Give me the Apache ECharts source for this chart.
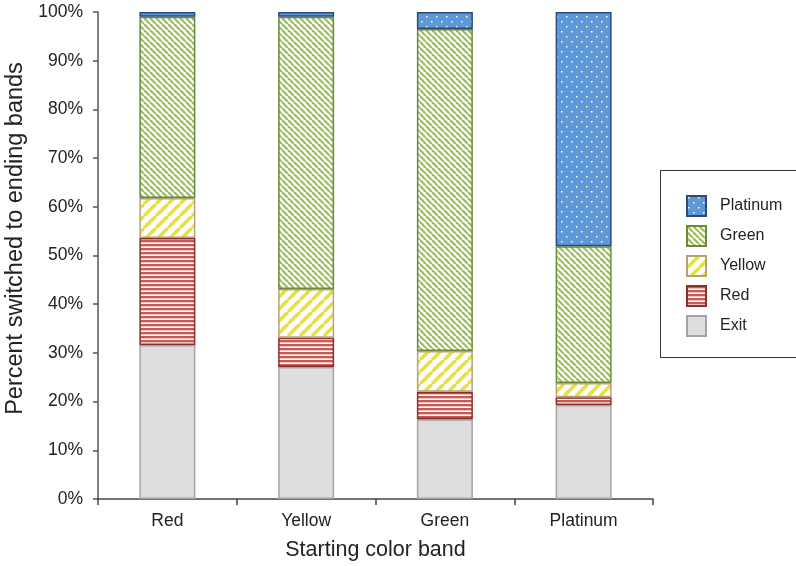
<!DOCTYPE html>
<html><head><meta charset="utf-8">
<script src="https://cdn.jsdelivr.net/npm/echarts@6/dist/echarts.min.js"></script>
<style>html,body{margin:0;padding:0;background:#fff}#c{width:796px;height:566px}</style>
</head><body><div id="c"></div>
<script>
const categories = ['Red', 'Yellow', 'Green', 'Platinum'];
const exitVals = [31.6, 27.1, 16.4, 19.3];
const redVals = [22.0, 6.0, 5.6, 1.6];
const yellowVals = [8.2, 10.0, 8.4, 2.9];
const greenVals = [37.2, 55.9, 66.1, 28.1];
const platinumVals = [1.0, 1.0, 3.5, 48.1];
const legendOrder = ['Platinum', 'Green', 'Yellow', 'Red', 'Exit'];

function tile(w, h, draw) {
  const c = document.createElement('canvas');
  c.width = w; c.height = h;
  const g = c.getContext('2d');
  draw(g, w, h);
  return { image: c, repeat: 'repeat' };
}
const greenPat = tile(6, 6, (g, s) => {
  g.fillStyle = '#fff'; g.fillRect(0, 0, s, s);
  g.strokeStyle = '#9cbd5c'; g.lineWidth = 2.2;
  for (let k = -1; k <= 1; k++) { g.beginPath(); g.moveTo(k * s, 0); g.lineTo(k * s + s, s); g.stroke(); }
});
const yellowPat = tile(12, 12, (g, s) => {
  g.fillStyle = '#fff'; g.fillRect(0, 0, s, s);
  g.strokeStyle = '#e9e03a'; g.lineWidth = 3.6;
  for (let k = -1; k <= 1; k++) { g.beginPath(); g.moveTo(k * s, s); g.lineTo(k * s + s, 0); g.stroke(); }
});
const redPat = tile(4, 4, (g) => {
  g.fillStyle = '#fff'; g.fillRect(0, 0, 4, 4);
  g.fillStyle = '#c35b57'; g.fillRect(0, 0, 4, 2);
  g.fillStyle = '#e9c2c0'; g.fillRect(0, 2, 4, 1);
});
const platPat = tile(10, 10, (g) => {
  g.fillStyle = '#5f98d6'; g.fillRect(0, 0, 10, 10);
  g.fillStyle = '#ffffff';
  g.fillRect(1, 1, 1.5, 1.5); g.fillRect(6, 6, 1.5, 1.5);
});

function ser(name, data, color, border) {
  return {
    name, type: 'bar', stack: 'all', data, barWidth: 56,
    itemStyle: { color, borderColor: border, borderWidth: 1.5 },
    emphasis: { disabled: true }
  };
}

const chart = echarts.init(document.getElementById('c'), null, { renderer: 'canvas' });
const font = "'Liberation Sans', Arial, Helvetica, sans-serif";
chart.setOption({
  animation: false,
  textStyle: { fontFamily: font },
  grid: { left: 98, right: 143, top: 12, bottom: 67, containLabel: false, outerBoundsMode: 'none' },
  xAxis: {
    type: 'category', data: categories,
    name: 'Starting color band', nameLocation: 'middle', nameGap: 40,
    nameTextStyle: { fontSize: 21.5, color: '#222', fontFamily: font },
    axisLine: { lineStyle: { color: '#444', width: 1.5 } },
    axisTick: { show: true, length: 6, lineStyle: { color: '#444', width: 1.5 } },
    axisLabel: { fontSize: 17.5, color: '#222', margin: 13, fontFamily: font }
  },
  yAxis: {
    type: 'value', min: 0, max: 100, interval: 10,
    name: 'Percent switched to ending bands', nameLocation: 'middle', nameGap: 68,
    nameTextStyle: { fontSize: 23.5, color: '#222', fontFamily: font, padding: [0, 0, 0, 34] },
    axisLine: { show: true, lineStyle: { color: '#555', width: 1.5 } },
    axisTick: { show: true, length: 5, lineStyle: { color: '#555', width: 1.5 } },
    axisLabel: { fontSize: 17.5, color: '#222', margin: 15, formatter: '{value}%', fontFamily: font },
    splitLine: { show: false }
  },
  legend: {
    data: legendOrder, orient: 'vertical', left: 681, top: 190,
    itemWidth: 19, itemHeight: 20, itemGap: 8, icon: 'rect',
    textStyle: { fontSize: 16, lineHeight: 20, color: '#222', padding: [0, 0, 0, 9], fontFamily: font }
  },
  graphic: [{
    type: 'rect', shape: { x: 660.5, y: 170.5, width: 140, height: 187 },
    style: { fill: 'none', stroke: '#333', lineWidth: 1 }, z: 10
  }],
  series: [
    ser('Exit', exitVals, '#dedede', '#a3a3a3'),
    ser('Red', redVals, redPat, '#8a2f2b'),
    ser('Yellow', yellowVals, yellowPat, '#b3a477'),
    ser('Green', greenVals, greenPat, '#6c8a3a'),
    ser('Platinum', platinumVals, platPat, '#2d4b74')
  ]
});
</script></body></html>
